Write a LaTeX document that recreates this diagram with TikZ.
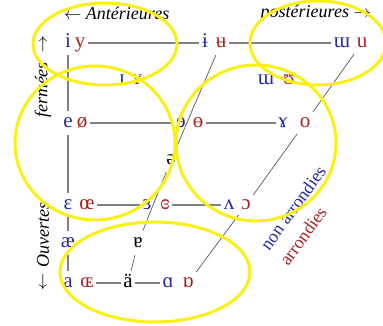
\documentclass[tikz,border=0pt]{standalone}
\usepackage{fontspec}
\setmainfont{Liberation Serif}
\usetikzlibrary{calc}
\definecolor{vblue}{RGB}{40,40,165}
\definecolor{vred}{RGB}{170,35,35}
\definecolor{hilite}{RGB}{250,240,20}

\begin{document}
\begin{tikzpicture}[x=1pt, y=-1pt,
    vowel/.style={inner sep=2.5pt, text height=14pt, text depth=5pt,
                  font=\fontsize{21}{24}\selectfont},
    unr/.style={vowel, text=vblue},
    rnd/.style={vowel, text=vred},
    neutral/.style={vowel, text=black},
    axis/.style={font=\fontsize{18}{20}\selectfont\itshape, inner sep=1pt},
    gridline/.style={draw=gray, line width=1.3pt},
    diagline/.style={draw=gray!70!black, line width=0.7pt},
    hl/.style={draw=hilite, line width=3pt},
  ]
  \useasboundingbox (0,0) rectangle (383,326);

  % close
  \node[unr] (i)    at (68,43)  {i};
  \node[rnd] (y)    at (80,43)  {y};
  \node[unr] (ibar) at (205,43) {ɨ};
  \node[rnd] (ubar) at (221,43) {ʉ};
  \node[unr] (ww)   at (342,43) {ɯ};
  \node[rnd] (u)    at (362,43) {u};
  % near-close
  \node[unr] (capi) at (122,80) {ɪ};
  \node[rnd] (capy) at (137,80) {ʏ};
  \node[unr] (ww2)  at (266,80) {ɯ};
  \node[rnd] (ups)  at (289,80) {ʊ};
  % close-mid
  \node[unr] (e)      at (68,123)  {e};
  \node[rnd] (oslash) at (82,123)  {ø};
  \node[unr] (reve)   at (181,123) {ɘ};
  \node[rnd] (obar)   at (198,123) {ɵ};
  \node[unr] (ramsh)  at (283,123) {ɤ};
  \node[rnd] (o)      at (305,123) {o};
  % mid
  \node[neutral] (schwa) at (171,160) {ə};
  % open-mid
  \node[unr] (eps)    at (68,205)  {ɛ};
  \node[rnd] (oe)     at (87,205)  {œ};
  \node[unr] (reveps) at (147,205) {ɜ};
  \node[rnd] (cleps)  at (165,205) {ɞ};
  \node[unr] (wedge)  at (229,205) {ʌ};
  \node[rnd] (openo)  at (246,205) {ɔ};
  % near-open
  \node[unr]     (ae)    at (68,243)  {æ};
  \node[neutral] (turna) at (138,243) {ɐ};
  % open
  \node[unr]     (a)      at (68,283)  {a};
  \node[rnd]     (oeopen) at (87,283)  {ɶ};
  \node[neutral] (adia)   at (128,283) {ä};
  \node[unr]     (alpha)  at (168,283) {ɑ};
  \node[rnd]     (talpha) at (188,283) {ɒ};

  \draw[gridline] (y) -- (ibar);
  \draw[gridline] (ubar) -- (ww);
  \draw[gridline] (oslash) -- (reve);
  \draw[gridline] (obar) -- (ramsh);
  \draw[gridline] (oe) -- (reveps);
  \draw[gridline] (cleps) -- (wedge);
  \draw[gridline] (oeopen) -- (adia);
  \draw[gridline] (adia) -- (alpha);
  \draw[gridline] (i) -- (e);
  \draw[gridline] (e) -- (eps);
  \draw[gridline] (eps) -- (ae);
  \draw[gridline] (ae) -- (a);

  \draw[diagline] (ubar) -- (schwa);
  \draw[diagline] (schwa) -- (turna);
  \draw[diagline] (turna) -- (adia);
  \draw[diagline] (u) -- (o);
  \draw[diagline] (o) -- (openo);
  \draw[diagline] (openo) -- (talpha);

  \node[axis, anchor=west] (front) at (63,13)  {$\leftarrow$ Antérieures};
  \node[axis, anchor=east] (back)  at (372,13) {postérieures $\rightarrow$};
  \node[axis] (uparr) at (43,44) {$\uparrow$};
  \node[axis, rotate=90] (closed) at (43,90) {fermées};
  \node[axis, rotate=90] (opened) at (43,235) {Ouvertes};
  \node[axis] (downarr) at (43,282) {$\downarrow$};
  \node[font=\fontsize{18}{20}\selectfont, text=vblue, rotate=54] (unround) at (293,208) {non arrondies};
  \node[font=\fontsize{18}{20}\selectfont, text=vred, rotate=54] (round) at (303,236) {arrondies};

  % highlighted areas
  \draw[hl] (105,44) ellipse [x radius=72, y radius=41];
  \draw[hl] (318,43) ellipse [x radius=68, y radius=42];
  \draw[hl] (95,143) ellipse [x radius=80, y radius=77];
  \draw[hl] (256,143) ellipse [x radius=80, y radius=78];
  \draw[hl] (155,272) ellipse [x radius=95, y radius=50];
\end{tikzpicture}
\end{document}
